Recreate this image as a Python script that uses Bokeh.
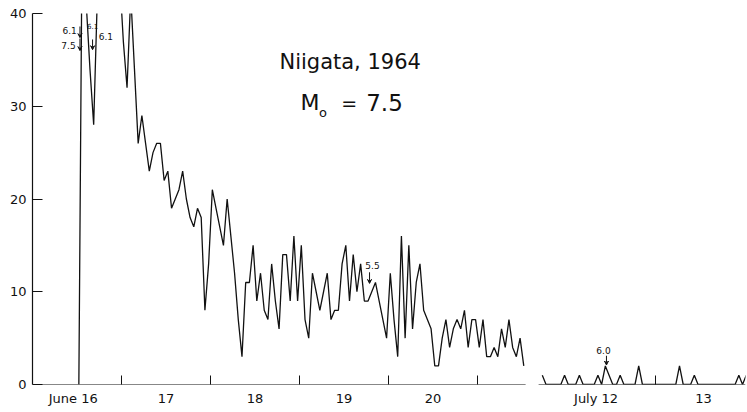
from bokeh.plotting import figure
from bokeh.models import FixedTicker, Range1d, Label, Arrow, VeeHead
from bokeh.embed import file_html
from bokeh.resources import INLINE

# Hourly numbers of aftershocks of the Niigata earthquake (M 7.5, June 16 1964, 13:01).
# June counts start with the 12:00-13:00 bin of June 16; values above 40 run off the top.
JUNE_FIRST_BIN = 12          # hours after June 16 00:00
june_counts = [
    0, 55, 41, 34, 28, 42, 52, 58, 54, 50, 47, 44,
    37, 32, 42, 34, 26, 29, 26, 23, 25, 26, 26, 22,
    23, 19, 20, 21, 23, 20, 18, 17, 19, 18, 8, 13,
    21, 19, 17, 15, 20, 16, 12, 7, 3, 11, 11, 15,
    9, 12, 8, 7, 13, 9, 6, 14, 14, 9, 16, 9,
    15, 7, 5, 12, 10, 8, 10, 12, 7, 8, 8, 13,
    15, 9, 14, 10, 13, 9, 9, 10, 11, 9, 7, 5,
    12, 7, 3, 16, 5, 15, 6, 11, 13, 8, 7, 6,
    2, 2, 5, 7, 4, 6, 7, 6, 8, 4, 7, 7,
    4, 7, 3, 3, 4, 3, 6, 4, 7, 4, 3, 5, 2,
]

# July counts: hourly bins from July 11 17:00 (bin -7 relative to July 12 00:00)
JULY_FIRST_BIN = -7
july_counts = [
    1, 0, 0, 0, 0, 0, 1,                 # July 11, 17:00-23:00
    0, 0, 0, 1, 0, 0, 0, 0, 1, 0, 2, 1,  # July 12, 00:00-11:00
    0, 0, 1, 0, 0, 0, 0, 2, 0, 0, 0, 0,  # July 12, 12:00-23:00
    0, 0, 0, 0, 0, 0, 2, 0, 0, 0, 1, 0,  # July 13, 00:00-11:00
    0, 0, 0, 0, 0, 0, 0, 0, 0, 0, 1, 0,  # July 13, 12:00-23:00
    1,
]

JULY12_HOUR = 26 * 24        # July 12 00:00, hours after June 16 00:00
GAP_HOURS = 20 * 24          # June 22 - July 11 left out of the time axis
X_END = 192.3
Y_MAX = 40

# tick marks at midnight, day labels near noon
day_ticks = [24, 48, 72, 96, 120, 168]
label_hours = [11, 36, 60, 84, 108, 152, 181]
label_texts = ["June 16", "17", "18", "19", "20", "July 12", "13"]
y_ticks = [0, 10, 20, 30, 40]

# magnitudes of the larger shocks, marked with arrows
mag_texts = ["6.1", "7.5", "6.1", "6.1", "5.5", "6.0"]

june_t = [JUNE_FIRST_BIN + i + 0.5 for i in range(len(june_counts))]
july_t = [JULY12_HOUR - GAP_HOURS + JULY_FIRST_BIN + i + 0.5 for i in range(len(july_counts))]

FONT = "DejaVu Sans"
INK = "#111111"

p = figure(width=747, height=412, output_backend="svg", toolbar_location=None,
           x_range=Range1d(0, X_END), y_range=Range1d(0, Y_MAX),
           min_border_left=32, min_border_right=2, min_border_top=13,
           min_border_bottom=28)
p.outline_line_color = None
p.grid.visible = False
p.background_fill_color = "white"
p.border_fill_color = "white"

# broken time axis: one baseline for each observation period
p.segment(x0=[0, july_t[0] - 1], y0=[0, 0], x1=[june_t[-1] + 0.5, X_END], y1=[0, 0],
          line_color=INK, line_width=1.2)

p.line(june_t, june_counts, line_color=INK, line_width=1.3)
p.line(july_t, july_counts, line_color=INK, line_width=1.3)

xa = p.xaxis[0]
xa.ticker = FixedTicker(ticks=label_hours, minor_ticks=day_ticks)
xa.major_label_overrides = {h: t for h, t in zip(label_hours, label_texts)}
xa.axis_line_color = None
xa.major_tick_line_color = None
xa.major_tick_in = 0
xa.major_tick_out = 0
xa.minor_tick_in = 9
xa.minor_tick_out = 0
xa.minor_tick_line_color = INK
xa.minor_tick_line_width = 1
xa.major_label_standoff = 6
xa.major_label_text_font = FONT
xa.major_label_text_font_size = "13px"
xa.major_label_text_color = INK

ya = p.yaxis[0]
ya.ticker = FixedTicker(ticks=y_ticks)
ya.axis_line_color = INK
ya.axis_line_width = 1.2
ya.major_tick_in = 10
ya.major_tick_out = 0
ya.major_tick_line_color = INK
ya.minor_tick_line_color = None
ya.major_label_standoff = 6
ya.major_label_text_font = FONT
ya.major_label_text_font_size = "13px"
ya.major_label_text_color = INK

# title block: place name and main-shock magnitude M0 = 7.5
p.add_layout(Label(x=66.6, y=34.8, text="Niigata, 1964", text_font=FONT,
                   text_font_size="21px", text_color=INK, text_baseline="middle"))
title_parts = ["M", "o", "=", "7.5"]
part_x = [72.3, 77.3, 83.3, 90.0]
part_y = [30.4, 29.3, 30.4, 30.4]
part_size = ["22px", "13px", "19px", "23px"]
for t, x, y, s in zip(title_parts, part_x, part_y, part_size):
    p.add_layout(Label(x=x, y=y, text=t, text_font=FONT, text_font_size=s,
                       text_color=INK, text_baseline="middle"))

# magnitude labels and their arrows
mag_x = [10.0, 9.7, 16.2, 19.8, 91.7, 154.0]
mag_y = [38.2, 36.5, 38.7, 37.5, 12.8, 3.7]
mag_size = ["9px", "9px", "7px", "9px", "9px", "9px"]
for t, x, y, s in zip(mag_texts, mag_x, mag_y, mag_size):
    p.add_layout(Label(x=x, y=y, text=t, text_font=FONT, text_font_size=s,
                       text_color=INK, text_align="center", text_baseline="middle"))

arrow_x = [12.8, 12.8, 16.2, 90.9, 154.8]
arrow_y0 = [38.6, 37.3, 37.2, 12.1, 3.1]
arrow_y1 = [37.4, 36.0, 36.1, 10.9, 2.1]
for x, y0, y1 in zip(arrow_x, arrow_y0, arrow_y1):
    p.add_layout(Arrow(x_start=x, y_start=y0, x_end=x, y_end=y1, line_color=INK,
                       line_width=1, end=VeeHead(size=4, line_color=INK, line_width=1,
                                                 fill_color=INK)))

open("out.html", "w").write(file_html(p, INLINE))
